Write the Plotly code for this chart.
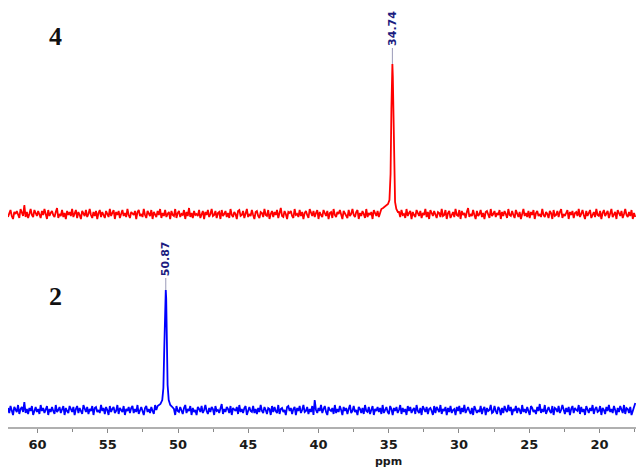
import numpy as np
import plotly.graph_objects as go

# ---- data ----
PPM_START, PPM_END = 62.1, 17.45          # spectral window (ppm)

# compound 4 (red) baseline noise (arbitrary px units)
noise_4 = [
    -3,1,4,-2,-5,2,0,3,-1,-4,5,1,-2,9,-3,2,-4,0,5,-1,-3,4,1,-2,3,
    0,-4,3,-1,5,-2,-5,4,-2,1,3,-1,-3,2,6,-4,0,-2,4,-3,1,-5,3,-1,2,
    -2,5,-3,0,4,-4,2,-1,-5,3,1,-2,4,-3,0,5,-1,-4,2,-2,3,-5,1,4,-3,
    2,-1,-4,3,0,-3,5,-2,1,4,-5,2,-1,3,-4,0,4,-2,1,-3,5,-1,-4,2,0,
    -1,3,-5,2,4,-2,0,-3,5,-1,-4,3,1,-2,4,-5,2,0,-3,3,-1,5,-4,1,-2,
    4,-3,0,2,-5,3,-1,-2,5,-4,1,3,-3,0,-1,4,-5,2,-2,6,-3,1,-4,3,-1,
    0,-2,4,-4,1,3,-5,2,-1,4,-3,0,5,-2,-1,3,-4,1,2,-5,4,-2,0,3,-3,
    1,-4,5,-1,-3,2,0,-5,3,4,-2,-1,3,-4,1,5,-3,0,-2,4,-1,-5,2,3,-2,
    -4,2,1,-3,5,-1,-2,4,-5,0,3,-3,2,-1,4,-4,1,6,-2,-3,3,0,-5,2,1,
    3,-2,-4,5,-1,0,-3,4,-2,2,-5,1,3,-1,-4,5,0,-2,3,-3,1,4,-5,2,-1,
    -3,4,0,-2,3,-5,1,2,-4,5,-1,-3,2,0,4,-2,-5,3,1,-1,-4,4,-2,0,5,
    -1,-3,2,4,-5,1,-2,3,0,-4,5,-3,1,-1,2,-5,4,0,-2,3,-3,1,5,-4,-1,
    2,-3,5,-1,-4,3,0,-2,4,-5,1,2,-3,4,-1,0,-4,5,-2,1,3,-5,2,-1,-3,
    4,0,-2,3,-4,1,-1,5,-3,2,-5,4,0,-2,3,-1,-4,2,1,-3,5,-2,-1,4,-5,
    1,3,-4,0,2,-3,5,-1,-2,4,-5,3,-1,1,-4,2,6,-3,0,-2,4,-1,-5,3,-2,
    0,4,-3,1,-5,2,3,-1,-4,5,-2,0,3,-3,1,-1,4,-5,2,-2,3,0,-4,5,-1,
    -2,3,-1,-4,4,1,-3,2,-5,0,5,-2,1,-3,3,-4,2,-1,4,-5,1,3,-2,0,-3,
    5,-1,-3,2,0,-4,3,1,-5,4,-2,-1,3,-3,2,5,-4,0,-2,1,4,-5,2,-1,3,
    -4,1,2,-2,5,-3,0,4,-1,-5,3,-2,1,4,-4,0,2,-3,5,-1,-2,3,-5,1,4,
    -2,0,3,-4,1,5,-3,-1,2,-5,4,1,-2,3,-4,0,5,-1,-3,2,-2,4,-5,1,-3,
]
peak4_ppm = [35.40, 35.20, 35.05, 34.95, 34.87, 34.81, 34.77, 34.74, 34.71, 34.67, 34.62, 34.55, 34.46, 34.35]
peak4_int = [6, 8, 10, 14, 40, 105, 142, 150, 138, 95, 35, 12, 5, 2]
offset_4 = 196
label_4 = "34.74"
peak4_pos = 34.74

# compound 2 (blue)
noise_2 = [
    2,-3,4,-1,-5,3,0,-2,5,-4,1,3,-2,8,-3,1,-4,2,-1,4,-5,0,3,-2,1,
    -4,5,-1,2,-3,0,4,-5,1,-2,3,-1,-4,5,-2,0,3,-3,1,4,-5,2,-1,-3,4,
    0,-2,3,-5,1,4,-3,2,-1,-4,5,0,-2,3,-4,1,-1,4,-5,2,3,-2,0,-3,5,
    -1,2,-4,3,0,-5,4,-2,1,3,-3,-1,5,-4,2,0,-2,4,-5,1,-1,3,-3,2,4,
    -3,1,-2,5,-4,0,3,-1,-5,2,4,-2,1,-3,3,-1,-4,5,0,-2,2,-5,4,-1,1,
    3,-4,0,2,-2,5,-3,1,-5,4,-1,-2,3,0,-4,2,5,-3,1,-1,4,-5,2,-2,0,
    -5,3,1,-2,4,-3,0,5,-1,-4,2,-2,3,1,-5,4,-1,0,-3,2,6,-4,1,-2,3,
    1,-3,4,-5,2,0,-1,3,-4,5,-2,1,-3,2,4,-5,0,3,-1,-2,4,-3,1,-4,2,
    -2,5,-1,-3,3,0,-4,2,1,-5,4,-2,3,-1,-3,5,-4,1,2,-2,0,-5,3,4,-1,
    2,-4,1,3,-5,2,-1,4,-3,0,5,-2,-1,3,-4,1,-2,4,-5,10,0,-3,2,-1,5,
    -3,1,4,-2,-5,3,0,-1,2,-4,5,-3,1,-2,4,0,-5,3,-1,2,-4,1,5,-3,-1,
    4,-2,0,-5,3,1,-3,2,-4,5,-1,-2,3,-4,0,4,-5,1,-1,3,-2,2,-4,5,-3,
    0,3,-2,-4,4,1,-5,2,-1,3,-3,0,5,-4,2,-2,1,-5,4,-1,3,-3,0,2,-4,
    5,-1,-3,2,-5,4,0,-2,3,-4,1,2,-1,-5,4,-3,3,0,-2,5,-4,1,-1,3,-5,
    2,-2,4,-3,0,1,-5,3,-1,4,-4,2,-2,5,-3,0,3,-1,-4,2,-5,4,1,-3,0,
    -2,4,-4,1,3,-5,2,-1,0,5,-3,-2,4,-1,-4,3,1,-5,2,-3,4,0,-2,5,-1,
    3,-5,1,-1,4,-3,2,0,-4,5,-2,1,-3,3,-1,-5,4,2,-2,0,-4,3,-1,6,-3,
    1,-2,5,-4,0,3,-1,-3,4,-5,2,1,-2,4,-3,0,5,-1,-4,2,-2,3,-5,1,4,
    -3,2,0,-1,5,-4,3,-2,1,-5,4,0,-3,2,-1,5,-4,1,3,-2,-1,4,-5,2,0,
    -4,3,-1,5,-2,1,-3,4,0,-5,2,-2,4,-1,-3,5,-4,2,1,-3,3,-5,0,4,7,
]
peak2_ppm = [51.45, 51.25, 51.12, 51.04, 50.98, 50.93, 50.89, 50.87, 50.84, 50.80, 50.74, 50.66, 50.55, 50.40]
peak2_int = [4, 6, 10, 22, 60, 105, 118, 120, 112, 75, 25, 10, 5, 3]
offset_2 = 0
label_2 = "50.87"
peak2_pos = 50.87

compound_labels = ["4", "2"]
tick_vals = [60, 55, 50, 45, 40, 35, 30, 25, 20]


def build(noise, pk_ppm, pk_int, offset):
    xg = np.linspace(PPM_START, PPM_END, len(noise))
    yn = np.array(noise, dtype=float)
    lo, hi = min(pk_ppm) - 0.05, max(pk_ppm) + 0.05
    keep = ~((xg >= lo) & (xg <= hi))
    x = np.concatenate([xg[keep], pk_ppm])
    y = np.concatenate([yn[keep], pk_int])
    order = np.argsort(-x)
    return x[order], y[order] + offset


x4, y4 = build(noise_4, peak4_ppm, peak4_int, offset_4)
x2, y2 = build(noise_2, peak2_ppm, peak2_int, offset_2)

fig = go.Figure()
fig.add_trace(go.Scatter(x=x4, y=y4, mode="lines", line=dict(color="#ff0000", width=1.8),
                         showlegend=False, hoverinfo="skip"))
fig.add_trace(go.Scatter(x=x2, y=y2, mode="lines", line=dict(color="#0000ff", width=1.8),
                         showlegend=False, hoverinfo="skip"))

NAVY = "#1c1c80"
for pos, top, lab, lead in [(peak4_pos, offset_4 + max(peak4_int), label_4, 16),
                            (peak2_pos, offset_2 + max(peak2_int), label_2, 12)]:
    fig.add_shape(type="line", x0=pos, x1=pos, y0=top, y1=top + lead,
                  line=dict(color="#9a9ab8", width=1))
    fig.add_annotation(x=pos, y=top + lead, text=lab, textangle=-90, showarrow=False,
                       xanchor="center", yanchor="bottom",
                       font=dict(family="DejaVu Sans", size=11, color=NAVY, weight="bold"))

for lab, yv in zip(compound_labels, [374, 114]):
    fig.add_annotation(x=58.75, y=yv, text=lab, showarrow=False,
                       font=dict(family="Liberation Serif", size=26, color="#111111", weight="bold"))

fig.add_annotation(x=35, y=-0.062, xref="x", yref="paper", yanchor="top", text="ppm", showarrow=False,
                   font=dict(family="DejaVu Sans", size=11, color="#1a1a1a", weight="bold"))

fig.update_xaxes(range=[PPM_START, 17.4], tickvals=tick_vals, ticktext=[str(v) for v in tick_vals],
                 showgrid=False, zeroline=False, showline=True, linecolor="#b0b0b0", linewidth=2,
                 ticks="outside", ticklen=4, tickcolor="#888888", tickwidth=1, automargin=False,
                 minor=dict(dtick=2.5, tick0=0, ticks="outside", ticklen=3, tickcolor="#888888", showgrid=False),
                 tickfont=dict(family="DejaVu Sans", size=13, color="#1a1a1a", weight="bold"))
fig.update_yaxes(range=[-17, 402], visible=False)
# page body has an 8px margin; plot area placed at page x 8..636, y 8..427
fig.update_layout(width=644, height=473, margin=dict(l=0, r=16, t=0, b=54),
                  plot_bgcolor="white", paper_bgcolor="white")
fig.write_html("out.html")
